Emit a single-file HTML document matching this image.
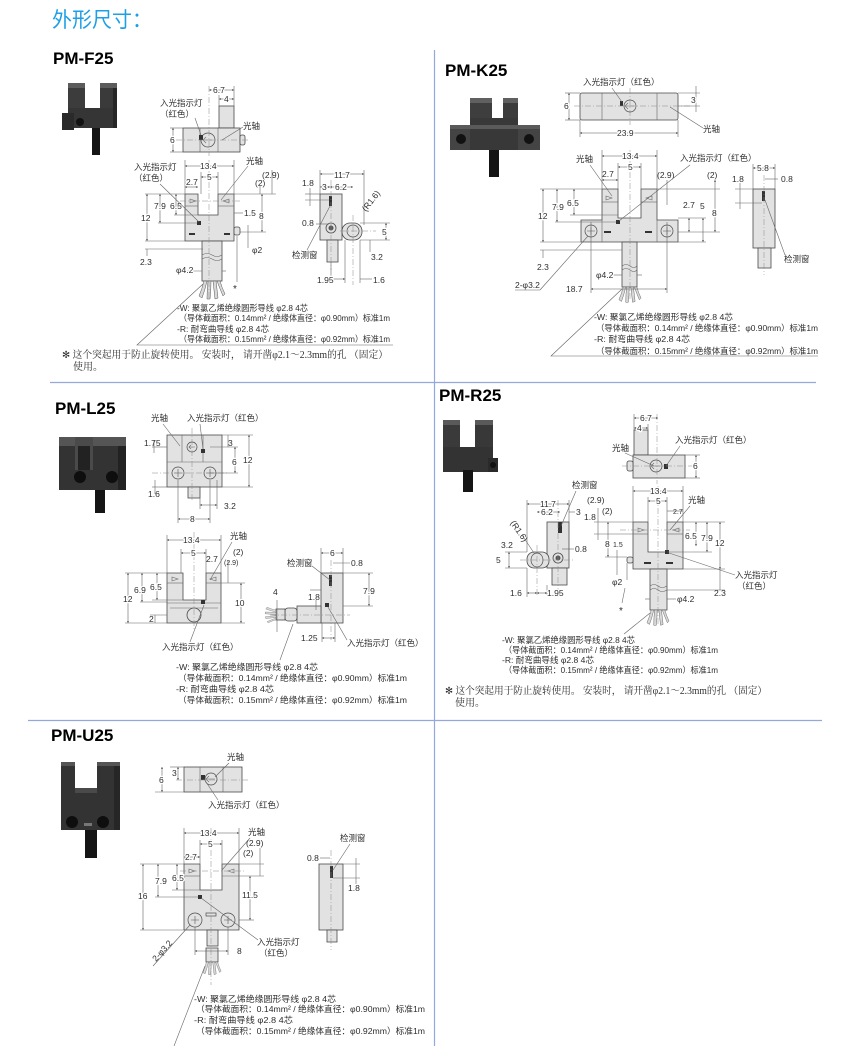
<!DOCTYPE html>
<html><head><meta charset="utf-8">
<style>
html,body{margin:0;padding:0;background:#fff}
svg{display:block}
text{font-family:"Liberation Sans","Noto Sans CJK SC",sans-serif;font-size:8.5px;fill:#2e2e2e}
.w{paint-order:stroke;stroke:#fff;stroke-width:2.5px;stroke-linejoin:round}
.h{font-weight:bold;font-size:17px;fill:#000}
.s{font-family:"Liberation Serif","Noto Serif CJK SC",serif;font-size:10px;fill:#2e2e2e}
.sm{font-size:7px}
.b{fill:#e2e2e2;stroke:#4a4a4a;stroke-width:.8}
.l{stroke:#666;stroke-width:.6;fill:none}
.c{stroke:#888;stroke-width:.5;fill:none;stroke-dasharray:6 2 1 2}
.d{stroke:#555;stroke-width:.55;fill:none;marker-start:url(#a);marker-end:url(#a)}
.k{fill:#333}
.o{fill:none;stroke:#4a4a4a;stroke-width:.7}
.bl{stroke:#93a8dc;stroke-width:1.2}
</style></head><body>
<svg width="852" height="1046" viewBox="0 0 852 1046" xmlns="http://www.w3.org/2000/svg">
<defs>
<marker id="a" viewBox="0 0 6 6" refX="6" refY="3" markerWidth="4" markerHeight="4" orient="auto-start-reverse"><path d="M0,0 L6,3 L0,6Z" fill="#555"/></marker>
<g id="fan" fill="#d8d8d8" stroke="#555" stroke-width=".5">
<path d="M-8,0 Q-10,8 -13,15 L-10,17 Q-7,9 -5,0Z"/>
<path d="M-4,0 Q-5,9 -5,18 L-2,18 Q-1,9 -1,0Z"/>
<path d="M1,0 Q2,9 3,18 L6,17 Q5,8 4,0Z"/>
<path d="M5,0 Q8,8 11,15 L13,13 Q10,7 8,0Z"/>
</g>
<g id="xc"><path d="M-4,0 H4 M0,-4 V4" stroke="#555" stroke-width=".6"/></g>
</defs>
<rect width="852" height="1046" fill="#fff"/>

<!-- Title -->
<text x="52" y="27" style="font-size:21px;fill:#1c9fe4" textLength="100" lengthAdjust="spacingAndGlyphs">外形尺寸：</text>

<!-- dividers -->
<line x1="434.5" y1="50" x2="434.5" y2="1046" class="bl"/>
<line x1="50" y1="382.5" x2="816" y2="382.5" class="bl"/>
<line x1="28" y1="720.5" x2="822" y2="720.5" class="bl"/>

<!-- ================= PM-F25 ================= -->
<text x="53" y="64" class="h">PM-F25</text>
<g>
<rect x="68" y="83" width="17" height="45" fill="#3c3c3c"/>
<rect x="100" y="83" width="17" height="45" fill="#3a3a3a"/>
<rect x="68" y="108" width="49" height="20" fill="#353535"/>
<rect x="68" y="83" width="17" height="5" fill="#5c5c5c"/>
<rect x="100" y="83" width="17" height="5" fill="#5c5c5c"/>
<rect x="113" y="88" width="4" height="40" fill="#262626"/>
<rect x="62" y="113" width="12" height="17" fill="#2a2a2a"/>
<circle cx="80" cy="122" r="4" fill="#111"/>
<rect x="92" y="128" width="8" height="27" fill="#151515"/>
</g>
<!-- top view -->
<rect x="219" y="106" width="15" height="22" class="b"/>
<rect x="183" y="128" width="57" height="24" class="b"/>
<line x1="200" y1="128" x2="200" y2="152" class="l"/>
<line x1="218" y1="128" x2="218" y2="152" class="l"/>
<rect x="240" y="135" width="5" height="10" rx="2" class="b"/>
<circle cx="208" cy="140" r="7" class="o"/>
<path d="M204,140 h8 M206,137 l-3,3 3,3" class="l"/>
<rect x="199" y="135" width="4" height="5" class="k"/>
<line x1="176" y1="140" x2="250" y2="140" class="c"/>
<line x1="209" y1="86" x2="209" y2="156" class="c"/>
<line x1="234" y1="86" x2="234" y2="106" class="l"/>
<line x1="219" y1="95" x2="219" y2="106" class="l"/>
<line x1="209" y1="90" x2="234" y2="90" class="d"/>
<line x1="219" y1="99" x2="234" y2="99" class="d"/>
<text x="213" y="93" class="w">6.7</text>
<text x="224" y="102" class="w">4</text>
<line x1="170" y1="128" x2="183" y2="128" class="l"/>
<line x1="170" y1="152" x2="183" y2="152" class="l"/>
<line x1="173" y1="128" x2="173" y2="152" class="d"/>
<text x="170" y="143" class="w">6</text>
<text x="160" y="106">入光指示灯</text>
<text x="160" y="117">（红色）</text>
<path d="M195,118 L201,135" class="l"/>
<text x="243" y="129">光轴</text>
<path d="M243,127 L222,140" class="l"/>
<!-- front view -->
<path d="M185,194 H198 V215 H218 V194 H234 V241 H185 Z" class="b"/>
<line x1="185" y1="206" x2="198" y2="206" class="l"/>
<line x1="218" y1="206" x2="234" y2="206" class="l"/>
<path d="M190,199 l6,2 -6,2z" class="l"/>
<path d="M229,199 l-6,2 6,2z" class="l"/>
<rect x="197" y="221" width="4" height="4" class="k"/>
<rect x="189" y="233" width="6" height="2" class="k"/>
<rect x="224" y="233" width="6" height="2" class="k"/>
<rect x="234" y="227" width="6" height="8" rx="2" class="b"/>
<rect x="202" y="241" width="20" height="40" class="b"/>
<path d="M202,255 q5,-3 10,0 t10,0 M202,259 q5,-3 10,0 t10,0" class="l"/>
<use href="#fan" transform="translate(212,281)"/>
<line x1="209" y1="160" x2="209" y2="300" class="c"/>
<line x1="180" y1="201" x2="240" y2="201" class="c"/>
<line x1="185" y1="160" x2="185" y2="194" class="l"/>
<line x1="234" y1="160" x2="234" y2="194" class="l"/>
<line x1="185" y1="166" x2="234" y2="166" class="d"/>
<text x="200" y="169" class="w">13.4</text>
<line x1="201" y1="172" x2="201" y2="194" class="l"/>
<line x1="218" y1="172" x2="218" y2="194" class="l"/>
<line x1="201" y1="177" x2="218" y2="177" class="d"/>
<text x="207" y="180" class="w">5</text>
<line x1="185" y1="187" x2="198" y2="187" class="d"/>
<text x="186" y="185" class="w">2.7</text>
<line x1="145" y1="194" x2="185" y2="194" class="l"/>
<line x1="145" y1="241" x2="185" y2="241" class="l"/>
<line x1="145" y1="249" x2="203" y2="249" class="l"/>
<line x1="158" y1="223" x2="197" y2="223" class="l"/>
<line x1="174" y1="215" x2="198" y2="215" class="l"/>
<line x1="147" y1="194" x2="147" y2="241" class="d"/>
<text x="141" y="221" class="w">12</text>
<line x1="160" y1="194" x2="160" y2="223" class="d"/>
<text x="154" y="209" class="w">7.9</text>
<line x1="176" y1="194" x2="176" y2="215" class="d"/>
<text x="170" y="209" class="w">6.5</text>
<line x1="147" y1="249" x2="147" y2="256" class="l"/>
<text x="140" y="265">2.3</text>
<line x1="234" y1="194" x2="276" y2="194" class="l"/>
<line x1="240" y1="232" x2="266" y2="232" class="l"/>
<line x1="262" y1="194" x2="262" y2="232" class="d"/>
<text x="259" y="219" class="w">8</text>
<line x1="272" y1="170" x2="272" y2="194" class="l"/>
<line x1="260" y1="186" x2="260" y2="194" class="l"/>
<text x="262" y="178">(2.9)</text>
<text x="255" y="186">(2)</text>
<line x1="234" y1="213" x2="243" y2="213" class="l"/>
<text x="244" y="216">1.5</text>
<line x1="248" y1="225" x2="248" y2="248" class="l"/>
<text x="252" y="253">φ2</text>
<line x1="237" y1="236" x2="237" y2="282" class="l"/>
<text x="233" y="292" style="font-size:10px">*</text>
<text x="134" y="170">入光指示灯</text>
<text x="134" y="181">（红色）</text>
<path d="M160,184 L199,222" class="l"/>
<text x="246" y="164">光轴</text>
<path d="M248,166 L221,200" class="l"/>
<line x1="175" y1="271" x2="202" y2="271" class="l"/>
<line x1="222" y1="271" x2="226" y2="271" class="l"/>
<text x="176" y="273" class="w">φ4.2</text>
<!-- side view -->
<rect x="320" y="194" width="22" height="46" class="b"/>
<rect x="329" y="196" width="3" height="10" class="k"/>
<circle cx="331" cy="228" r="5" class="b"/><circle cx="331" cy="228" r="2.5" fill="#555"/>
<rect x="342" y="223" width="20" height="17" rx="8" class="b"/>
<circle cx="353" cy="231" r="6" class="o"/>
<rect x="327" y="240" width="11" height="22" class="b"/>
<line x1="331" y1="180" x2="331" y2="270" class="c"/>
<line x1="353" y1="215" x2="353" y2="285" class="c"/>
<line x1="340" y1="231" x2="376" y2="231" class="c"/>
<line x1="320" y1="170" x2="320" y2="194" class="l"/>
<line x1="364" y1="170" x2="364" y2="225" class="l"/>
<line x1="320" y1="174" x2="364" y2="174" class="d"/>
<text x="334" y="178" class="w">11.7</text>
<line x1="320" y1="187" x2="330" y2="187" class="d"/>
<line x1="330" y1="187" x2="353" y2="187" class="d"/>
<text x="322" y="190" class="w">3</text>
<text x="335" y="190" class="w">6.2</text>
<line x1="305" y1="194" x2="320" y2="194" class="l"/>
<line x1="305" y1="200" x2="329" y2="200" class="l"/>
<line x1="310" y1="188" x2="310" y2="206" class="l"/>
<text x="302" y="186">1.8</text>
<line x1="316" y1="224" x2="329" y2="224" class="l"/>
<text x="302" y="226">0.8</text>
<line x1="360" y1="223" x2="390" y2="223" class="l"/>
<line x1="360" y1="240" x2="390" y2="240" class="l"/>
<line x1="386" y1="223" x2="386" y2="240" class="d"/>
<text x="382" y="235" class="w">5</text>
<text transform="translate(366,212) rotate(-52)">(R1.6)</text>
<line x1="370" y1="240" x2="370" y2="252" class="l"/>
<text x="371" y="260">3.2</text>
<line x1="345" y1="240" x2="345" y2="283" class="l"/>
<line x1="360" y1="240" x2="360" y2="283" class="l"/>
<line x1="331" y1="262" x2="331" y2="283" class="l"/>
<line x1="331" y1="279" x2="345" y2="279" class="d"/>
<line x1="360" y1="279" x2="372" y2="279" class="l"/>
<text x="317" y="283" class="w">1.95</text>
<text x="373" y="283">1.6</text>
<text x="292" y="258">检测窗</text>
<path d="M307,250 L330,206" class="l"/>
<!-- wires text -->
<text x="177" y="311" textLength="131" lengthAdjust="spacingAndGlyphs">-W:  聚氯乙烯绝缘圆形导线 φ2.8 4芯</text>
<text x="179" y="321" textLength="211" lengthAdjust="spacingAndGlyphs">（导体截面积：0.14mm² / 绝缘体直径：φ0.90mm）标准1m</text>
<text x="177" y="332" textLength="92" lengthAdjust="spacingAndGlyphs">-R:  耐弯曲导线 φ2.8 4芯</text>
<text x="179" y="342" textLength="211" lengthAdjust="spacingAndGlyphs">（导体截面积：0.15mm² / 绝缘体直径：φ0.92mm）标准1m</text>
<path d="M203,284 L137,345 L393,345" class="l"/>
<text x="62" y="358" class="s" textLength="326" lengthAdjust="spacingAndGlyphs">✻ 这个突起用于防止旋转使用。 安装时， 请开凿φ2.1～2.3mm的孔 （固定）</text>
<text x="73" y="370" class="s">使用。</text>

<!-- ================= PM-K25 ================= -->
<text x="445" y="76" class="h">PM-K25</text>
<g>
<rect x="470" y="98" width="22" height="40" fill="#3e3e3e"/>
<rect x="503" y="98" width="15" height="40" fill="#3c3c3c"/>
<rect x="470" y="98" width="22" height="5" fill="#606060"/>
<rect x="503" y="98" width="15" height="5" fill="#606060"/>
<rect x="470" y="118" width="48" height="32" fill="#383838"/>
<rect x="450" y="125" width="20" height="25" fill="#444"/>
<rect x="518" y="125" width="22" height="25" fill="#444"/>
<rect x="450" y="125" width="90" height="4" fill="#5a5a5a"/>
<circle cx="461" cy="139" r="5" fill="#111"/>
<circle cx="529" cy="139" r="5" fill="#111"/>
<rect x="489" y="150" width="10" height="27" fill="#151515"/>
</g>
<!-- top view -->
<rect x="580" y="93" width="98" height="27" rx="2" class="b"/>
<line x1="602" y1="93" x2="602" y2="120" class="l"/>
<line x1="657" y1="93" x2="657" y2="120" class="l"/>
<circle cx="630" cy="106" r="6" class="o"/>
<path d="M626,106 h8 M628,103 l-3,3 3,3" class="l"/>
<rect x="620" y="101" width="3" height="5" class="k"/>
<line x1="574" y1="106" x2="690" y2="106" class="c"/>
<line x1="630" y1="88" x2="630" y2="125" class="c"/>
<line x1="565" y1="93" x2="580" y2="93" class="l"/>
<line x1="565" y1="120" x2="580" y2="120" class="l"/>
<line x1="569" y1="93" x2="569" y2="120" class="d"/>
<text x="564" y="109" class="w">6</text>
<line x1="678" y1="93" x2="700" y2="93" class="l"/>
<line x1="678" y1="106" x2="700" y2="106" class="l"/>
<line x1="696" y1="86" x2="696" y2="112" class="l"/>
<text x="691" y="103" class="w">3</text>
<line x1="580" y1="120" x2="580" y2="137" class="l"/>
<line x1="678" y1="120" x2="678" y2="137" class="l"/>
<line x1="580" y1="133" x2="678" y2="133" class="d"/>
<text x="617" y="136" class="w">23.9</text>
<text x="703" y="132">光轴</text>
<path d="M703,128 L670,107" class="l"/>
<text x="583" y="85">入光指示灯（红色）</text>
<path d="M612,88 L622,102" class="l"/>
<!-- front view -->
<path d="M602,189 H618 V218 H641 V189 H657 V220 H678 V242 H581 V220 H602 Z" class="b"/>
<line x1="602" y1="220" x2="602" y2="242" class="l"/>
<line x1="657" y1="220" x2="657" y2="242" class="l"/>
<circle cx="591" cy="231" r="6" class="o"/><use href="#xc" x="591" y="231"/>
<circle cx="667" cy="231" r="6" class="o"/><use href="#xc" x="667" y="231"/>
<rect x="604" y="231" width="7" height="2" class="k"/>
<rect x="645" y="231" width="7" height="2" class="k"/>
<rect x="616" y="220" width="4" height="4" class="k"/>
<path d="M606,196 l6,2 -6,2z" class="l"/>
<path d="M652,196 l-6,2 6,2z" class="l"/>
<line x1="602" y1="202" x2="618" y2="202" class="l"/>
<line x1="641" y1="202" x2="657" y2="202" class="l"/>
<rect x="622" y="242" width="15" height="45" class="b"/>
<path d="M622,266 q4,-3 8,0 t7,0 M622,270 q4,-3 8,0 t7,0" class="l"/>
<use href="#fan" transform="translate(630,287) scale(.85)"/>
<line x1="630" y1="150" x2="630" y2="300" class="c"/>
<line x1="591" y1="222" x2="591" y2="293" class="l"/>
<line x1="667" y1="222" x2="667" y2="293" class="l"/>
<line x1="591" y1="289" x2="667" y2="289" class="d"/>
<text x="566" y="292" class="w">18.7</text>
<line x1="602" y1="150" x2="602" y2="189" class="l"/>
<line x1="657" y1="150" x2="657" y2="189" class="l"/>
<line x1="602" y1="156" x2="657" y2="156" class="d"/>
<text x="622" y="159" class="w">13.4</text>
<line x1="618" y1="163" x2="618" y2="189" class="l"/>
<line x1="641" y1="163" x2="641" y2="189" class="l"/>
<line x1="618" y1="167" x2="641" y2="167" class="d"/>
<text x="628" y="170" class="w">5</text>
<line x1="602" y1="180" x2="618" y2="180" class="d"/>
<text x="602" y="177">2.7</text>
<text x="657" y="178">(2.9)</text>
<text x="707" y="178">(2)</text>
<line x1="667" y1="180" x2="667" y2="205" class="l"/>
<line x1="715" y1="180" x2="715" y2="232" class="d"/>
<text x="712" y="216" class="w">8</text>
<line x1="657" y1="189" x2="720" y2="189" class="l"/>
<line x1="678" y1="232" x2="720" y2="232" class="l"/>
<line x1="678" y1="218" x2="706" y2="218" class="l"/>
<line x1="678" y1="242" x2="706" y2="242" class="l"/>
<line x1="689" y1="218" x2="689" y2="232" class="d"/>
<text x="683" y="208">2.7</text>
<line x1="703" y1="218" x2="703" y2="242" class="d"/>
<text x="700" y="209">5</text>
<line x1="540" y1="189" x2="602" y2="189" class="l"/>
<line x1="555" y1="222" x2="616" y2="222" class="l"/>
<line x1="570" y1="215" x2="618" y2="215" class="l"/>
<line x1="540" y1="242" x2="581" y2="242" class="l"/>
<line x1="540" y1="250" x2="622" y2="250" class="l"/>
<line x1="543" y1="189" x2="543" y2="242" class="d"/>
<text x="538" y="219" class="w">12</text>
<line x1="557" y1="189" x2="557" y2="222" class="d"/>
<text x="552" y="210" class="w">7.9</text>
<line x1="574" y1="189" x2="574" y2="215" class="d"/>
<text x="567" y="206" class="w">6.5</text>
<line x1="543" y1="250" x2="543" y2="258" class="l"/>
<text x="537" y="270">2.3</text>
<line x1="610" y1="275" x2="622" y2="275" class="l"/>
<line x1="637" y1="275" x2="642" y2="275" class="l"/>
<text x="596" y="278" class="w">φ4.2</text>
<text x="515" y="288">2-φ3.2</text>
<path d="M540,290 L588,236" class="l"/>
<line x1="515" y1="290" x2="540" y2="290" class="l"/>
<text x="576" y="162">光轴</text>
<path d="M590,165 L612,196" class="l"/>
<text x="680" y="161">入光指示灯（红色）</text>
<path d="M690,165 L619,221" class="l"/>
<!-- side view -->
<rect x="753" y="189" width="22" height="59" class="b"/>
<rect x="758" y="248" width="13" height="20" class="b"/>
<rect x="762" y="191" width="3" height="10" class="k"/>
<line x1="764" y1="175" x2="764" y2="275" class="c"/>
<line x1="753" y1="164" x2="753" y2="189" class="l"/>
<line x1="775" y1="164" x2="775" y2="189" class="l"/>
<line x1="753" y1="168" x2="775" y2="168" class="d"/>
<text x="757" y="171" class="w">5.8</text>
<line x1="735" y1="189" x2="753" y2="189" class="l"/>
<line x1="735" y1="203" x2="762" y2="203" class="l"/>
<line x1="740" y1="183" x2="740" y2="209" class="l"/>
<text x="732" y="182">1.8</text>
<line x1="765" y1="179" x2="778" y2="179" class="l"/>
<text x="781" y="182">0.8</text>
<text x="784" y="262">检测窗</text>
<path d="M785,255 L765,200" class="l"/>
<!-- wire text -->
<text x="594" y="320" textLength="139" lengthAdjust="spacingAndGlyphs">-W:  聚氯乙烯绝缘圆形导线 φ2.8 4芯</text>
<text x="596" y="331" textLength="222" lengthAdjust="spacingAndGlyphs">（导体截面积：0.14mm² / 绝缘体直径：φ0.90mm）标准1m</text>
<text x="594" y="342" textLength="96" lengthAdjust="spacingAndGlyphs">-R:  耐弯曲导线 φ2.8 4芯</text>
<text x="596" y="354" textLength="222" lengthAdjust="spacingAndGlyphs">（导体截面积：0.15mm² / 绝缘体直径：φ0.92mm）标准1m</text>
<path d="M622,289 L551,356 L818,356" class="l"/>

<!-- ================= PM-L25 ================= -->
<text x="55" y="414" class="h">PM-L25</text>
<g>
<rect x="59" y="437" width="67" height="53" fill="#333"/>
<rect x="59" y="437" width="67" height="9" fill="#555"/>
<rect x="75" y="437" width="18" height="33" fill="#4a4a4a"/>
<rect x="78" y="446" width="12" height="24" fill="#222"/>
<rect x="118" y="446" width="8" height="44" fill="#222"/>
<circle cx="80" cy="477" r="6" fill="#0e0e0e"/>
<circle cx="112" cy="477" r="6" fill="#0e0e0e"/>
<rect x="95" y="490" width="10" height="23" fill="#151515"/>
</g>
<!-- top view -->
<rect x="167" y="435" width="55" height="52" class="b"/>
<line x1="182" y1="435" x2="182" y2="462" class="l"/>
<line x1="203" y1="435" x2="203" y2="462" class="l"/>
<line x1="167" y1="462" x2="222" y2="462" class="l"/>
<circle cx="192" cy="447" r="5" class="o"/>
<path d="M189,447 h6 M191,445 l-2,2 2,2" class="l"/>
<rect x="201" y="449" width="4" height="4" class="k"/>
<circle cx="178" cy="473" r="6" class="o"/><use href="#xc" x="178" y="473"/>
<circle cx="210" cy="473" r="6" class="o"/><use href="#xc" x="210" y="473"/>
<rect x="188" y="487" width="12" height="11" class="b"/>
<line x1="192" y1="428" x2="192" y2="500" class="c"/>
<line x1="152" y1="473" x2="228" y2="473" class="c"/>
<line x1="222" y1="435" x2="253" y2="435" class="l"/>
<line x1="222" y1="487" x2="253" y2="487" class="l"/>
<line x1="249" y1="435" x2="249" y2="487" class="d"/>
<text x="243" y="463" class="w">12</text>
<line x1="210" y1="447" x2="238" y2="447" class="l"/>
<line x1="210" y1="473" x2="238" y2="473" class="l"/>
<line x1="235" y1="447" x2="235" y2="473" class="d"/>
<text x="232" y="465" class="w">6</text>
<line x1="228" y1="435" x2="228" y2="447" class="l"/>
<text x="228" y="446">3</text>
<line x1="152" y1="447" x2="167" y2="447" class="l"/>
<line x1="154" y1="440" x2="154" y2="453" class="l"/>
<text x="144" y="446">1.75</text>
<line x1="152" y1="487" x2="167" y2="487" class="l"/>
<line x1="155" y1="480" x2="155" y2="494" class="l"/>
<text x="148" y="497">1.6</text>
<line x1="200" y1="490" x2="200" y2="509" class="l"/>
<line x1="217" y1="480" x2="217" y2="509" class="l"/>
<line x1="200" y1="505" x2="217" y2="505" class="d"/>
<text x="224" y="509">3.2</text>
<line x1="178" y1="480" x2="178" y2="523" class="l"/>
<line x1="210" y1="480" x2="210" y2="523" class="l"/>
<line x1="178" y1="519" x2="210" y2="519" class="d"/>
<text x="190" y="522" class="w">8</text>
<text x="151" y="421">光轴</text>
<path d="M163,424 L180,446" class="l"/>
<text x="187" y="421">入光指示灯（红色）</text>
<path d="M200,424 L203,449" class="l"/>
<!-- front view -->
<path d="M167,573 H183 V600 H206 V573 H221 V623 H167 Z" class="b"/>
<line x1="167" y1="603" x2="221" y2="603" class="l"/>
<line x1="170" y1="608" x2="218" y2="608" class="l"/>
<line x1="167" y1="583" x2="183" y2="583" class="l"/>
<line x1="206" y1="583" x2="221" y2="583" class="l"/>
<path d="M172,577 l6,2 -6,2z" class="l"/>
<path d="M216,577 l-6,2 6,2z" class="l"/>
<circle cx="194" cy="615" r="7" class="b"/>
<rect x="201" y="600" width="4" height="4" class="k"/>
<line x1="194" y1="532" x2="194" y2="630" class="c"/>
<line x1="167" y1="535" x2="167" y2="573" class="l"/>
<line x1="221" y1="535" x2="221" y2="573" class="l"/>
<line x1="167" y1="540" x2="221" y2="540" class="d"/>
<text x="183" y="543" class="w">13.4</text>
<line x1="181" y1="549" x2="181" y2="573" class="l"/>
<line x1="206" y1="549" x2="206" y2="573" class="l"/>
<line x1="181" y1="553" x2="206" y2="553" class="d"/>
<text x="191" y="556" class="w">5</text>
<text x="206" y="562">2.7</text>
<text x="224" y="565" class="sm">(2.9)</text>
<text x="233" y="555">(2)</text>
<line x1="228" y1="560" x2="228" y2="583" class="l"/>
<line x1="125" y1="573" x2="167" y2="573" class="l"/>
<line x1="125" y1="623" x2="167" y2="623" class="l"/>
<line x1="140" y1="602" x2="167" y2="602" class="l"/>
<line x1="152" y1="600" x2="183" y2="600" class="l"/>
<line x1="150" y1="615" x2="167" y2="615" class="l"/>
<line x1="128" y1="573" x2="128" y2="623" class="d"/>
<text x="123" y="602" class="w">12</text>
<line x1="142" y1="573" x2="142" y2="602" class="d"/>
<text x="134" y="593" class="w">6.9</text>
<line x1="157" y1="573" x2="157" y2="600" class="d"/>
<text x="150" y="590" class="w">6.5</text>
<line x1="155" y1="615" x2="155" y2="623" class="l"/>
<text x="149" y="622">2</text>
<line x1="221" y1="583" x2="245" y2="583" class="l"/>
<line x1="221" y1="623" x2="245" y2="623" class="l"/>
<line x1="241" y1="583" x2="241" y2="623" class="d"/>
<text x="235" y="606" class="w">10</text>
<text x="230" y="539">光轴</text>
<path d="M232,542 L210,580" class="l"/>
<text x="162" y="650">入光指示灯（红色）</text>
<path d="M190,642 L204,605" class="l"/>
<!-- side view -->
<rect x="321" y="573" width="22" height="50" class="b"/>
<rect x="297" y="606" width="24" height="17" class="b"/>
<rect x="285" y="608" width="12" height="13" rx="3" class="b"/>
<rect x="276" y="609" width="9" height="11" class="b"/>
<use href="#fan" transform="translate(276,615) rotate(90) scale(.6)"/>
<rect x="329" y="575" width="3" height="11" class="k"/>
<rect x="325" y="603" width="4" height="4" class="k"/>
<line x1="331" y1="560" x2="331" y2="640" class="c"/>
<line x1="270" y1="615" x2="350" y2="615" class="c"/>
<line x1="321" y1="548" x2="321" y2="573" class="l"/>
<line x1="343" y1="548" x2="343" y2="573" class="l"/>
<line x1="321" y1="553" x2="343" y2="553" class="d"/>
<text x="330" y="556" class="w">6</text>
<line x1="333" y1="563" x2="350" y2="563" class="l"/>
<text x="351" y="566">0.8</text>
<text x="287" y="566">检测窗</text>
<path d="M312,566 L330,580" class="l"/>
<line x1="343" y1="573" x2="373" y2="573" class="l"/>
<line x1="343" y1="606" x2="373" y2="606" class="l"/>
<line x1="369" y1="573" x2="369" y2="606" class="d"/>
<text x="363" y="594" class="w">7.9</text>
<line x1="277" y1="600" x2="277" y2="632" class="l"/>
<text x="273" y="595">4</text>
<line x1="310" y1="590" x2="321" y2="590" class="l"/>
<line x1="316" y1="600" x2="316" y2="610" class="l"/>
<text x="308" y="600">1.8</text>
<line x1="322" y1="623" x2="322" y2="642" class="l"/>
<line x1="335" y1="623" x2="335" y2="642" class="l"/>
<line x1="322" y1="638" x2="335" y2="638" class="d"/>
<text x="301" y="641">1.25</text>
<text x="347" y="646">入光指示灯（红色）</text>
<path d="M347,640 L328,607" class="l"/>
<!-- wire text -->
<text x="176" y="670" textLength="142" lengthAdjust="spacingAndGlyphs">-W:  聚氯乙烯绝缘圆形导线 φ2.8 4芯</text>
<text x="178" y="681" textLength="229" lengthAdjust="spacingAndGlyphs">（导体截面积：0.14mm² / 绝缘体直径：φ0.90mm）标准1m</text>
<text x="176" y="692" textLength="98" lengthAdjust="spacingAndGlyphs">-R:  耐弯曲导线 φ2.8 4芯</text>
<text x="178" y="703" textLength="229" lengthAdjust="spacingAndGlyphs">（导体截面积：0.15mm² / 绝缘体直径：φ0.92mm）标准1m</text>
<path d="M293,624 L280,660" class="l"/>

<!-- ================= PM-R25 ================= -->
<text x="439" y="401" class="h">PM-R25</text>
<g>
<rect x="443" y="420" width="17" height="50" fill="#3a3a3a"/>
<rect x="475" y="420" width="18" height="50" fill="#383838"/>
<rect x="443" y="420" width="17" height="5" fill="#5a5a5a"/>
<rect x="475" y="420" width="18" height="5" fill="#5a5a5a"/>
<rect x="443" y="447" width="50" height="25" fill="#333"/>
<rect x="488" y="458" width="10" height="14" fill="#2a2a2a"/>
<circle cx="493" cy="465" r="3" fill="#111"/>
<rect x="463" y="470" width="10" height="22" fill="#151515"/>
</g>
<!-- top view -->
<rect x="634" y="430" width="14" height="25" class="b"/>
<rect x="633" y="455" width="52" height="23" class="b"/>
<rect x="627" y="461" width="6" height="10" rx="2" class="b"/>
<circle cx="656" cy="466" r="6" class="o"/>
<path d="M652,466 h8 M654,463 l-3,3 3,3" class="l"/>
<rect x="664" y="464" width="4" height="5" class="k"/>
<line x1="622" y1="466" x2="692" y2="466" class="c"/>
<line x1="657" y1="414" x2="657" y2="484" class="c"/>
<line x1="634" y1="414" x2="634" y2="430" class="l"/>
<line x1="648" y1="424" x2="648" y2="430" class="l"/>
<line x1="634" y1="418" x2="658" y2="418" class="d"/>
<text x="640" y="421" class="w">6.7</text>
<line x1="634" y1="428" x2="648" y2="428" class="d"/>
<text x="637" y="431" class="w">4</text>
<line x1="685" y1="455" x2="700" y2="455" class="l"/>
<line x1="685" y1="478" x2="700" y2="478" class="l"/>
<line x1="696" y1="455" x2="696" y2="478" class="d"/>
<text x="693" y="469" class="w">6</text>
<text x="612" y="451">光轴</text>
<path d="M625,453 L654,466" class="l"/>
<text x="675" y="443">入光指示灯（红色）</text>
<path d="M680,446 L666,466" class="l"/>
<!-- front view -->
<path d="M633,522 H648 V552 H667 V522 H683 V569 H633 Z" class="b"/>
<line x1="633" y1="534" x2="648" y2="534" class="l"/>
<line x1="667" y1="534" x2="683" y2="534" class="l"/>
<path d="M638,528 l6,2 -6,2z" class="l"/>
<path d="M679,528 l-6,2 6,2z" class="l"/>
<rect x="644" y="562" width="7" height="2" class="k"/>
<rect x="666" y="562" width="7" height="2" class="k"/>
<rect x="665" y="550" width="4" height="4" class="k"/>
<rect x="627" y="557" width="6" height="6" rx="2" class="b"/>
<rect x="650" y="569" width="17" height="41" class="b"/>
<path d="M650,586 q4,-3 8,0 t9,0 M650,590 q4,-3 8,0 t9,0" class="l"/>
<use href="#fan" transform="translate(658,610) scale(.85)"/>
<line x1="658" y1="486" x2="658" y2="625" class="c"/>
<line x1="620" y1="530" x2="690" y2="530" class="c"/>
<line x1="633" y1="486" x2="633" y2="522" class="l"/>
<line x1="683" y1="486" x2="683" y2="522" class="l"/>
<line x1="633" y1="491" x2="683" y2="491" class="d"/>
<text x="650" y="494" class="w">13.4</text>
<line x1="648" y1="497" x2="648" y2="522" class="l"/>
<line x1="667" y1="497" x2="667" y2="522" class="l"/>
<line x1="648" y1="501" x2="667" y2="501" class="d"/>
<text x="656" y="504" class="w">5</text>
<line x1="667" y1="511" x2="683" y2="511" class="l"/>
<text x="673" y="514" class="sm">2.7</text>
<text x="688" y="503">光轴</text>
<path d="M690,506 L670,530" class="l"/>
<text x="587" y="503">(2.9)</text>
<text x="602" y="514">(2)</text>
<line x1="598" y1="508" x2="598" y2="540" class="l"/>
<line x1="594" y1="522" x2="633" y2="522" class="l"/>
<line x1="594" y1="534" x2="633" y2="534" class="l"/>
<text x="584" y="520">1.8</text>
<line x1="605" y1="557" x2="627" y2="557" class="l"/>
<line x1="608" y1="522" x2="608" y2="557" class="d"/>
<text x="605" y="547" class="w">8</text>
<text x="613" y="547" class="sm">1.5</text>
<line x1="617" y1="550" x2="617" y2="575" class="l"/>
<line x1="627" y1="563" x2="627" y2="580" class="l"/>
<text x="612" y="585">φ2</text>
<line x1="625" y1="588" x2="622" y2="603" class="l"/>
<text x="619" y="614" style="font-size:10px">*</text>
<line x1="683" y1="522" x2="725" y2="522" class="l"/>
<line x1="667" y1="552" x2="712" y2="552" class="l"/>
<line x1="683" y1="569" x2="725" y2="569" class="l"/>
<line x1="667" y1="590" x2="725" y2="590" class="l"/>
<line x1="696" y1="522" x2="696" y2="546" class="d"/>
<text x="685" y="539" class="w">6.5</text>
<line x1="707" y1="522" x2="707" y2="552" class="d"/>
<text x="701" y="541" class="w">7.9</text>
<line x1="720" y1="522" x2="720" y2="569" class="d"/>
<text x="715" y="546" class="w">12</text>
<line x1="720" y1="569" x2="720" y2="590" class="l"/>
<text x="714" y="596">2.3</text>
<line x1="645" y1="599" x2="650" y2="599" class="l"/>
<line x1="667" y1="599" x2="676" y2="599" class="l"/>
<text x="677" y="602">φ4.2</text>
<text x="735" y="578">入光指示灯</text>
<text x="737" y="589">（红色）</text>
<path d="M735,575 L669,553" class="l"/>
<!-- side view -->
<rect x="547" y="522" width="22" height="46" class="b"/>
<rect x="558" y="522" width="4" height="11" class="k"/>
<rect x="527" y="552" width="22" height="16" rx="7" class="b"/>
<ellipse cx="537" cy="560" rx="6" ry="7" class="o"/>
<circle cx="558" cy="558" r="5" class="b"/><circle cx="558" cy="558" r="2.5" fill="#555"/>
<rect x="552" y="568" width="15" height="17" class="b"/>
<line x1="558" y1="500" x2="558" y2="597" class="c"/>
<line x1="537" y1="545" x2="537" y2="597" class="c"/>
<line x1="520" y1="560" x2="575" y2="560" class="c"/>
<line x1="527" y1="500" x2="527" y2="552" class="l"/>
<line x1="569" y1="500" x2="569" y2="522" class="l"/>
<line x1="527" y1="504" x2="569" y2="504" class="d"/>
<text x="540" y="507" class="w">11.7</text>
<line x1="537" y1="512" x2="560" y2="512" class="d"/>
<text x="541" y="515" class="w">6.2</text>
<text x="576" y="515">3</text>
<line x1="569" y1="512" x2="575" y2="512" class="l"/>
<text x="572" y="488">检测窗</text>
<path d="M576,491 L561,526" class="l"/>
<text transform="translate(510,523) rotate(55)">(R1.6)</text>
<path d="M522,535 L534,553" class="l"/>
<line x1="505" y1="552" x2="527" y2="552" class="l"/>
<line x1="505" y1="568" x2="527" y2="568" class="l"/>
<line x1="509" y1="552" x2="509" y2="568" class="d"/>
<text x="496" y="563">5</text>
<text x="501" y="548">3.2</text>
<line x1="562" y1="549" x2="574" y2="549" class="l"/>
<text x="575" y="552">0.8</text>
<line x1="527" y1="568" x2="527" y2="597" class="l"/>
<line x1="547" y1="585" x2="547" y2="597" class="l"/>
<line x1="527" y1="593" x2="537" y2="593" class="d"/>
<line x1="537" y1="593" x2="547" y2="593" class="d"/>
<text x="510" y="596" class="w">1.6</text>
<text x="547" y="596" class="w">1.95</text>
<!-- wire text -->
<text x="502" y="643" textLength="133" lengthAdjust="spacingAndGlyphs">-W:  聚氯乙烯绝缘圆形导线 φ2.8 4芯</text>
<text x="504" y="653" textLength="214" lengthAdjust="spacingAndGlyphs">（导体截面积：0.14mm² / 绝缘体直径：φ0.90mm）标准1m</text>
<text x="502" y="663" textLength="92" lengthAdjust="spacingAndGlyphs">-R:  耐弯曲导线 φ2.8 4芯</text>
<text x="504" y="673" textLength="214" lengthAdjust="spacingAndGlyphs">（导体截面积：0.15mm² / 绝缘体直径：φ0.92mm）标准1m</text>
<path d="M650,613 L624,634" class="l"/>
<text x="445" y="694" class="s" textLength="322" lengthAdjust="spacingAndGlyphs">✻ 这个突起用于防止旋转使用。 安装时， 请开凿φ2.1～2.3mm的孔 （固定）</text>
<text x="455" y="706" class="s">使用。</text>

<!-- ================= PM-U25 ================= -->
<text x="51" y="741" class="h">PM-U25</text>
<g>
<rect x="61" y="762" width="59" height="68" fill="#333"/>
<rect x="75" y="762" width="22" height="31" fill="#fff"/>
<rect x="75" y="788" width="22" height="5" fill="#4a4a4a"/>
<rect x="61" y="762" width="14" height="4" fill="#555"/>
<rect x="97" y="762" width="23" height="4" fill="#555"/>
<rect x="114" y="766" width="6" height="64" fill="#262626"/>
<circle cx="72" cy="822" r="6" fill="#0e0e0e"/>
<circle cx="103" cy="822" r="6" fill="#0e0e0e"/>
<rect x="84" y="823" width="8" height="3" fill="#777"/>
<rect x="85" y="830" width="12" height="28" fill="#151515"/>
</g>
<!-- top view -->
<rect x="184" y="767" width="58" height="25" class="b"/>
<line x1="200" y1="767" x2="200" y2="792" class="l"/>
<line x1="223" y1="767" x2="223" y2="792" class="l"/>
<circle cx="211" cy="779" r="6" class="o"/>
<path d="M207,779 h8 M209,776 l-3,3 3,3" class="l"/>
<rect x="201" y="775" width="4" height="5" class="k"/>
<line x1="176" y1="780" x2="250" y2="780" class="c"/>
<line x1="170" y1="767" x2="184" y2="767" class="l"/>
<line x1="155" y1="792" x2="184" y2="792" class="l"/>
<line x1="178" y1="767" x2="178" y2="780" class="d"/>
<text x="172" y="776" class="w">3</text>
<line x1="162" y1="767" x2="162" y2="792" class="d"/>
<text x="159" y="783" class="w">6</text>
<text x="227" y="760">光轴</text>
<path d="M229,763 L215,777" class="l"/>
<text x="208" y="808">入光指示灯（红色）</text>
<path d="M218,800 L204,779" class="l"/>
<!-- front view -->
<path d="M184,864 H200 V890 H222 V864 H239 V930 H184 Z" class="b"/>
<line x1="184" y1="876" x2="200" y2="876" class="l"/>
<line x1="222" y1="876" x2="239" y2="876" class="l"/>
<path d="M189,869 l6,2 -6,2z" class="l"/>
<path d="M234,869 l-6,2 6,2z" class="l"/>
<rect x="198" y="895" width="4" height="4" class="k"/>
<rect x="206" y="913" width="10" height="3" class="o"/>
<circle cx="195" cy="920" r="7" class="o"/><use href="#xc" x="195" y="920"/>
<circle cx="228" cy="920" r="7" class="o"/><use href="#xc" x="228" y="920"/>
<rect x="207" y="930" width="11" height="16" class="b"/>
<rect x="206" y="948" width="12" height="14" class="b"/>
<use href="#fan" transform="translate(212,962) scale(.7)"/>
<line x1="211" y1="828" x2="211" y2="985" class="c"/>
<line x1="180" y1="871" x2="244" y2="871" class="c"/>
<line x1="184" y1="828" x2="184" y2="864" class="l"/>
<line x1="239" y1="828" x2="239" y2="864" class="l"/>
<line x1="184" y1="833" x2="239" y2="833" class="d"/>
<text x="200" y="836" class="w">13.4</text>
<line x1="200" y1="840" x2="200" y2="864" class="l"/>
<line x1="222" y1="840" x2="222" y2="864" class="l"/>
<line x1="200" y1="844" x2="222" y2="844" class="d"/>
<text x="208" y="847" class="w">5</text>
<line x1="184" y1="857" x2="200" y2="857" class="d"/>
<text x="185" y="860" class="w">2.7</text>
<text x="248" y="835">光轴</text>
<path d="M250,838 L222,870" class="l"/>
<text x="246" y="846">(2.9)</text>
<text x="243" y="856">(2)</text>
<line x1="260" y1="848" x2="260" y2="876" class="l"/>
<line x1="239" y1="864" x2="264" y2="864" class="l"/>
<line x1="239" y1="876" x2="264" y2="876" class="l"/>
<line x1="239" y1="920" x2="254" y2="920" class="l"/>
<line x1="250" y1="876" x2="250" y2="920" class="d"/>
<text x="242" y="898" class="w">11.5</text>
<line x1="140" y1="864" x2="184" y2="864" class="l"/>
<line x1="140" y1="930" x2="184" y2="930" class="l"/>
<line x1="155" y1="897" x2="198" y2="897" class="l"/>
<line x1="172" y1="890" x2="200" y2="890" class="l"/>
<line x1="143" y1="864" x2="143" y2="930" class="d"/>
<text x="138" y="899" class="w">16</text>
<line x1="158" y1="864" x2="158" y2="897" class="d"/>
<text x="155" y="884" class="w">7.9</text>
<line x1="177" y1="864" x2="177" y2="890" class="d"/>
<text x="172" y="881" class="w">6.5</text>
<line x1="195" y1="927" x2="195" y2="955" class="l"/>
<line x1="228" y1="927" x2="228" y2="955" class="l"/>
<line x1="195" y1="951" x2="228" y2="951" class="d"/>
<text x="237" y="954">8</text>
<text transform="translate(156,962) rotate(-48)">2-φ3.2</text>
<path d="M153,966 L190,925" class="l"/>
<text x="257" y="945">入光指示灯</text>
<text x="259" y="956">（红色）</text>
<path d="M258,940 L201,898" class="l"/>
<!-- side view -->
<rect x="319" y="864" width="24" height="66" class="b"/>
<rect x="327" y="930" width="10" height="12" class="b"/>
<rect x="330" y="866" width="3" height="12" class="k"/>
<line x1="331" y1="850" x2="331" y2="950" class="c"/>
<line x1="343" y1="864" x2="360" y2="864" class="l"/>
<line x1="333" y1="878" x2="360" y2="878" class="l"/>
<line x1="356" y1="858" x2="356" y2="884" class="l"/>
<text x="348" y="891">1.8</text>
<line x1="320" y1="858" x2="330" y2="858" class="l"/>
<text x="307" y="861">0.8</text>
<text x="340" y="841">检测窗</text>
<path d="M350,844 L333,870" class="l"/>
<!-- wire text -->
<text x="194" y="1002" textLength="142" lengthAdjust="spacingAndGlyphs">-W:  聚氯乙烯绝缘圆形导线 φ2.8 4芯</text>
<text x="196" y="1012" textLength="229" lengthAdjust="spacingAndGlyphs">（导体截面积：0.14mm² / 绝缘体直径：φ0.90mm）标准1m</text>
<text x="194" y="1023" textLength="99" lengthAdjust="spacingAndGlyphs">-R:  耐弯曲导线 φ2.8 4芯</text>
<text x="196" y="1034" textLength="229" lengthAdjust="spacingAndGlyphs">（导体截面积：0.15mm² / 绝缘体直径：φ0.92mm）标准1m</text>
<path d="M205,966 L174,1046" class="l"/>
</svg>
</body></html>
